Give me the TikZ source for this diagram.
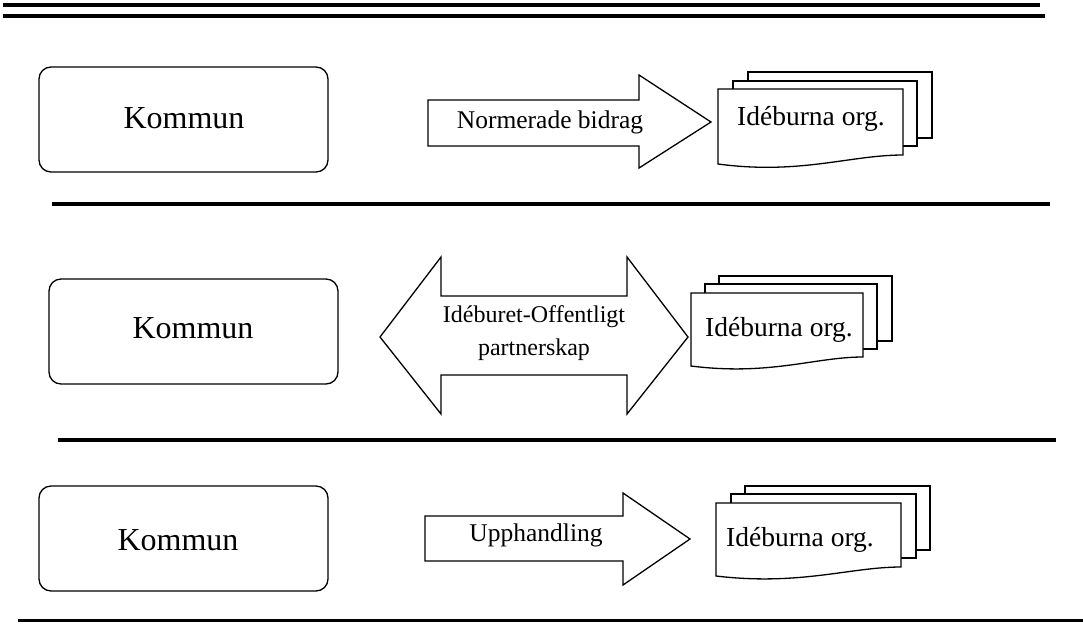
\documentclass[tikz,border=0pt]{standalone}
\usepackage{fontspec}
\setmainfont{Liberation Serif}
\begin{document}
\begin{tikzpicture}[x=1pt,y=-1pt,
  outline/.style={draw=black,line width=1.3pt,line join=miter},
  sep/.style={draw=black,line width=3.5pt},
  kommunbox/.style={outline,rounded corners=12pt,minimum width=289pt,minimum height=105pt,inner sep=0pt},
  kommuntext/.style={font=\fontsize{32}{36}\selectfont},
  orgtext/.style={font=\fontsize{27.5}{30}\selectfont,inner sep=0pt},
  arrowtext/.style={font=\fontsize{25.5}{33}\selectfont,inner sep=0pt,align=center},
  docfill/.style={outline,fill=white}]
\useasboundingbox (0,0) rectangle (1083,624);

% top double rule
\coordinate (t1a) at (3,5); \coordinate (t1b) at (1040,5);
\coordinate (t2a) at (3,16); \coordinate (t2b) at (1045,16);
\draw[sep] (t1a) -- (t1b);
\draw[sep] (t2a) -- (t2b);

% separators
\coordinate (s1a) at (52,204); \coordinate (s1b) at (1050,204);
\coordinate (s2a) at (58,440); \coordinate (s2b) at (1056,440);
\coordinate (s3a) at (18,620.5); \coordinate (s3b) at (1083,620.5);
\draw[sep] (s1a) -- (s1b);
\draw[sep] (s2a) -- (s2b);
\draw[sep] (s3a) -- (s3b);

% ---------- Row 1 ----------
\node[kommunbox] (k1) at (183.5,119.5) {};
\node[kommuntext] (k1t) at (184,118) {Kommun};

\draw[outline] (428,100) -- (639,100) -- (639,75) -- (711,122) -- (639,168) -- (639,146) -- (428,146) -- cycle;
\node[arrowtext] (a1) at (550,122) {Normerade bidrag};

\draw[docfill] (748,72) rectangle (932,138);
\draw[docfill] (733,81) rectangle (917,146);
\draw[docfill] (718,89) -- (903,89) -- (903,155) .. controls (850,155) and (800,175) .. (718,164) -- cycle;
\node[orgtext] (o1) at (811,119) {Idéburna org.};

% ---------- Row 2 ----------
\node[kommunbox] (k2) at (193.5,331.5) {};
\node[kommuntext] (k2t) at (193,328) {Kommun};

\draw[outline] (380,337) -- (441,257) -- (441,296) -- (627,296) -- (627,257) -- (688,337) -- (627,414) -- (627,375) -- (441,375) -- (441,414) -- cycle;
\node[arrowtext,font=\fontsize{24}{33}\selectfont] (a2) at (534,333) {Idéburet-Offentligt\\partnerskap};

\draw[docfill] (719,276) rectangle (892,341);
\draw[docfill] (705,284) rectangle (877,349);
\draw[docfill] (691,293) -- (863,293) -- (863,357) .. controls (815,357) and (770,376) .. (691,366) -- cycle;
\node[orgtext] (o2) at (779,330) {Idéburna org.};

% ---------- Row 3 ----------
\node[kommunbox] (k3) at (183.5,538.5) {};
\node[kommuntext] (k3t) at (178,540) {Kommun};

\draw[outline] (425,516) -- (623,516) -- (623,493) -- (690,539) -- (623,585) -- (623,561) -- (425,561) -- cycle;
\node[arrowtext] (a3) at (536,535) {Upphandling};

\draw[docfill] (745,486) rectangle (930,550);
\draw[docfill] (731,494) rectangle (916,558);
\draw[docfill] (716,503) -- (901,503) -- (901,567) .. controls (850,567) and (800,586) .. (716,576) -- cycle;
\node[orgtext] (o3) at (800,540) {Idéburna org.};
\end{tikzpicture}
\end{document}
